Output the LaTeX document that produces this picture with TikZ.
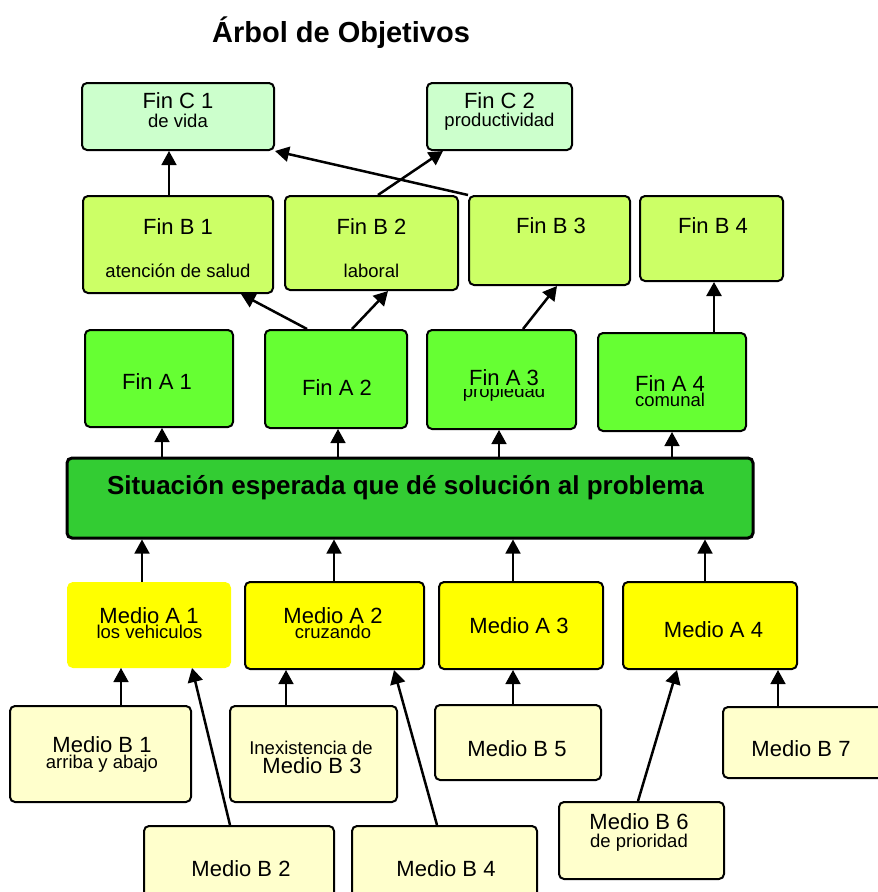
\documentclass[tikz,border=0pt]{standalone}
\usepackage{fontspec}
\setmainfont{Liberation Sans}
\usetikzlibrary{arrows.meta}
\definecolor{cfinc}{HTML}{CCFFCC}
\definecolor{cfinb}{HTML}{CCFF66}
\definecolor{cfina}{HTML}{66FF33}
\definecolor{cmain}{HTML}{33CC33}
\definecolor{cmedA}{HTML}{FFFF00}
\definecolor{cmedB}{HTML}{FFFFCC}
\begin{document}
\begin{tikzpicture}[x=1pt,y=-1pt,
  box/.style={draw=black, line width=2pt, rounded corners=5pt, inner sep=0pt},
  finc/.style={box, fill=cfinc},
  finb/.style={box, fill=cfinb},
  fina/.style={box, fill=cfina},
  mainbox/.style={box, line width=3pt, fill=cmain},
  meda/.style={box, fill=cmedA},
  medb/.style={box, fill=cmedB},
  big/.style={font=\fontsize{22}{24}\selectfont, inner sep=0pt, anchor=base},
  small/.style={font=\fontsize{18.5}{20}\selectfont, inner sep=0pt, anchor=base},
  arr/.style={line width=1.5pt, -{Triangle[width=15pt,length=14pt]}},
  arrd/.style={line width=2.5pt, -{Triangle[width=15pt,length=14pt]}}]
\useasboundingbox (0,0) rectangle (878,892);
\clip (0,0) rectangle (878,892);

% title
\node[font=\fontsize{29}{32}\selectfont\bfseries, inner sep=0pt, anchor=base] (title) at (341,42) {Árbol de Objetivos};

% Fin C
\node[finc, minimum width=192pt, minimum height=67pt] (c1) at (178,116.5) {};
\node[finc, minimum width=145pt, minimum height=67pt] (c2) at (499.5,116.5) {};
% Fin B
\node[finb, minimum width=190pt, minimum height=97pt] (b1) at (178,244.5) {};
\node[finb, minimum width=173pt, minimum height=94pt] (b2) at (371.5,243) {};
\node[finb, minimum width=161pt, minimum height=89pt] (b3) at (549.5,240.5) {};
\node[finb, minimum width=143pt, minimum height=85pt] (b4) at (711.5,238.5) {};
% Fin A
\node[fina, minimum width=148pt, minimum height=97pt] (a1) at (159,378.5) {};
\node[fina, minimum width=142pt, minimum height=98pt] (a2) at (336,379) {};
\node[fina, minimum width=149pt, minimum height=99pt] (a3) at (501.5,379.5) {};
\node[fina, minimum width=148pt, minimum height=98pt] (a4) at (672,382) {};
% main
\node[mainbox, minimum width=686pt, minimum height=80pt] (main) at (410,498) {};
% Medio A
\node[meda, draw=cmedA, minimum width=162pt, minimum height=84pt] (ma1) at (149,625) {};
\node[meda, minimum width=179pt, minimum height=87pt] (ma2) at (334.5,625.5) {};
\node[meda, minimum width=164pt, minimum height=87pt] (ma3) at (521,625.5) {};
\node[meda, minimum width=174pt, minimum height=87pt] (ma4) at (710,625.5) {};
% Medio B
\node[medb, minimum width=181pt, minimum height=96pt] (mb1) at (100.5,754) {};
\node[medb, minimum width=167pt, minimum height=96pt] (mb3) at (313.5,754) {};
\node[medb, minimum width=190pt, minimum height=84pt] (mb2) at (239,868) {};
\node[medb, minimum width=185pt, minimum height=84pt] (mb4) at (444.5,868) {};
\node[medb, minimum width=166pt, minimum height=75pt] (mb5) at (518,742.5) {};
\node[medb, minimum width=165pt, minimum height=77pt] (mb6) at (641.5,840.5) {};
\node[medb, minimum width=177pt, minimum height=71pt] (mb7) at (811.5,742.5) {};

% texts
\node[big] (tc1) at (178,108) {Fin C 1};
\node[small] (sc1) at (178,127) {de vida};
\node[big] (tc2) at (499.5,108) {Fin C 2};
\node[small] (sc2) at (499.5,126) {productividad};
\node[big] (tb1) at (178,234) {Fin B 1};
\node[small] (sb1) at (178,277) {atención de salud};
\node[big] (tb2) at (371.5,234) {Fin B 2};
\node[small] (sb2) at (371.5,277) {laboral};
\node[big] (tb3) at (551,233) {Fin B 3};
\node[big] (tb4) at (713,233) {Fin B 4};
\node[big] (ta1) at (157,389) {Fin A 1};
\node[big] (ta2) at (337,395) {Fin A 2};
\begin{scope}
  \clip (430,389.5) rectangle (574,420);
  \node[small] (sa3) at (504,397) {propiedad};
\end{scope}
\node[big] (ta3) at (504,385) {Fin A 3};
\node[big] (ta4) at (670,391) {Fin A 4};
\node[small] (sa4) at (670,406) {comunal};
\node[font=\fontsize{26}{28}\selectfont\bfseries, inner sep=0pt, anchor=base] (tmain) at (405.5,494) {Situación esperada que dé solución al problema};
\node[big] (tma1) at (149,623) {Medio A 1};
\node[small] (sma1) at (149.5,638) {los vehiculos};
\node[big] (tma2) at (333,623) {Medio A 2};
\node[small] (sma2) at (333,638) {cruzando};
\node[big] (tma3) at (519,633) {Medio A 3};
\node[big] (tma4) at (713.5,637) {Medio A 4};
\node[big] (tmb1) at (102,752) {Medio B 1};
\node[small] (smb1) at (102,768) {arriba y abajo};
\node[small] (smb3) at (311,754) {Inexistencia de};
\node[big] (tmb3) at (312,773) {Medio B 3};
\node[big] (tmb2) at (241,876) {Medio B 2};
\node[big] (tmb4) at (446,876) {Medio B 4};
\node[big] (tmb5) at (517,756) {Medio B 5};
\node[big] (tmb6) at (639,829) {Medio B 6};
\node[small] (smb6) at (639,847) {de prioridad};
\node[big] (tmb7) at (801,756) {Medio B 7};

% connectors: Fin B -> Fin C
\draw[arr] ([xshift=-9pt]b1.north) -- ([xshift=-9pt]c1.south);
\draw[arrd] (b3.north west) -- (c1.south east);
\draw[arrd] ([xshift=6.5pt]b2.north) -- ([xshift=17pt]c2.south west);
% Fin A -> Fin B
\draw[arrd] ([xshift=-29pt]a2.north) -- ([xshift=-33pt]b1.south east);
\draw[arrd] ([xshift=16pt]a2.north) -- ([xshift=16.5pt]b2.south);
\draw[arrd] ([xshift=21.5pt]a3.north) -- ([xshift=7.5pt]b3.south);
\draw[arrd] ([xshift=42pt]a4.north) -- ([xshift=2.5pt]b4.south);
% main -> Fin A
\draw[arr] ([xshift=3pt]a1.south |- main.north) -- ([xshift=3pt]a1.south);
\draw[arr] ([xshift=2pt]a2.south |- main.north) -- ([xshift=2pt]a2.south);
\draw[arr] ([xshift=-2.5pt]a3.south |- main.north) -- ([xshift=-2.5pt]a3.south);
\draw[arr] (a4.south |- main.north) -- (a4.south);
% Medio A -> main
\draw[arr] ([xshift=-7pt]ma1.north) -- ([xshift=-7pt]ma1.north |- main.south);
\draw[arr] ([xshift=-0.5pt]ma2.north) -- ([xshift=-0.5pt]ma2.north |- main.south);
\draw[arr] ([xshift=-8pt]ma3.north) -- ([xshift=-8pt]ma3.north |- main.south);
\draw[arr] ([xshift=-5pt]ma4.north) -- ([xshift=-5pt]ma4.north |- main.south);
% Medio B -> Medio A
\draw[arr] ([xshift=20.5pt]mb1.north) -- ([xshift=20.5pt]mb1.north |- ma1.south);
\draw[arrd] ([xshift=-9pt]mb2.north) -- ([xshift=43pt]ma1.south);
\draw[arr] ([xshift=-27.5pt]mb3.north) -- ([xshift=-27.5pt]mb3.north |- ma2.south);
\draw[arrd] ([xshift=-7.5pt]mb4.north) -- ([xshift=59.5pt]ma2.south);
\draw[arr] ([xshift=-5pt]mb5.north) -- ([xshift=-5pt]mb5.north |- ma3.south);
\draw[arrd] ([xshift=-3.5pt]mb6.north) -- ([xshift=-33pt]ma4.south);
\draw[arr] ([xshift=-33.5pt]mb7.north) -- ([xshift=-33.5pt]mb7.north |- ma4.south);
\end{tikzpicture}
\end{document}
